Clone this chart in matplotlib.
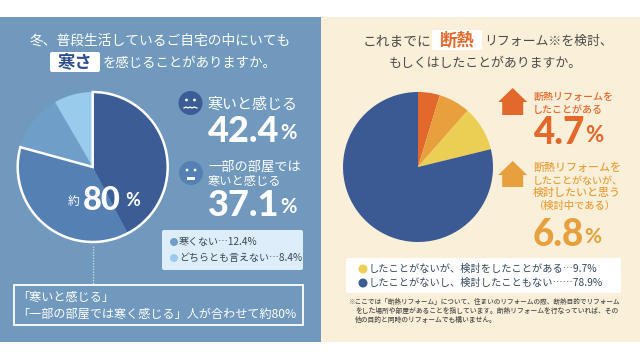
import matplotlib
matplotlib.use("Agg")
import matplotlib.pyplot as plt
from matplotlib.patches import Rectangle, Circle, FancyBboxPatch, Polygon

plt.rcParams['font.family'] = ['Noto Sans CJK JP', 'DejaVu Sans']

# 左のグラフ
cold_labels = ["寒いと感じる", "一部の部屋では寒いと感じる", "寒くない", "どちらとも言えない"]
cold_values = [42.4, 37.1, 12.4, 8.4]
# 右のグラフ
reform_labels = ["したことがある", "検討したいと思う", "検討をしたことがある", "検討したこともない"]
reform_values = [4.7, 6.8, 9.7, 78.9]

COLD_COLORS = ["#3C5C95", "#5480B4", "#6F9EC9", "#99CBEC"]
REFORM_COLORS = ["#E2682B", "#E8A03E", "#EBCF55", "#3B5A94"]
BLUE_BG = "#7099BD"
CREAM_BG = "#FAEFD8"
DARK_TEXT = "#4A4A48"
LEGEND_TEXT = "#34465A"
NUM_FONT = ['Lato', 'Noto Sans CJK JP']

W, H = 640, 360

fig = plt.figure(figsize=(6.4, 3.6), dpi=100, facecolor="white")

# 背景の軸
under = fig.add_axes([0, 0, 1, 1])
under.set_xlim(0, W)
under.set_ylim(H, 0)
under.axis("off")
under.set_zorder(0)
under.add_patch(Rectangle((0, 17), 321, 325, fc=BLUE_BG, ec="none"))
under.add_patch(Rectangle((321, 17), 319, 325, fc=CREAM_BG, ec="none"))

# 文字や図形用の軸 (ピクセル座標)
bg = fig.add_axes([0, 0, 1, 1])
bg.set_xlim(0, W)
bg.set_ylim(H, 0)
bg.axis("off")
bg.set_zorder(2)


def label(x, y, s, size, color="white", ha="left", weight="normal", family=None):
    kw = {}
    if family:
        kw["family"] = family
    bg.text(x, y, s, fontsize=size, color=color, ha=ha, va="center",
            fontweight=weight, zorder=5, **kw)


def big_number(x, xpct, y, value, size, pct_size, color):
    label(x, y, f"{value}", size, color, weight="black", family=NUM_FONT)
    label(xpct, y + 2, "%", pct_size, color, weight="bold", family=NUM_FONT)


def badge(x0, y0, x1, y1, color="white"):
    bg.add_patch(FancyBboxPatch((x0 + 2, y0 + 2), x1 - x0 - 4, y1 - y0 - 4,
                                boxstyle="round,pad=2", fc=color, ec="none", zorder=2))


def house(cx, top, eave, bottom, color):
    bg.add_patch(Polygon([(cx, top), (cx + 14.5, eave), (cx + 10.5, eave), (cx + 10.5, bottom),
                          (cx - 10.5, bottom), (cx - 10.5, eave), (cx - 14.5, eave)],
                         closed=True, fc=color, ec="none", zorder=3))


def pie_axes(cx, cy, r):
    m = r * 1.1
    ax = fig.add_axes([(cx - m) / W, 1 - (cy + m) / H, 2 * m / W, 2 * m / H])
    ax.set_zorder(1)
    return ax


# 左パネル タイトル
label(160, 41, "冬、普段生活しているご自宅の中にいても", 9.9, ha="center")
badge(50, 52, 100, 72)
label(75, 62, "寒さ", 12.5, "#2F4F8C", ha="center", weight="bold")
label(190, 63, "を感じることがありますか。", 9.6, ha="center")

# 左パネル 円グラフ
ax = pie_axes(92.7, 167, 75)
ax.pie(cold_values, colors=COLD_COLORS, startangle=90, counterclock=False, radius=1,
       wedgeprops={"linewidth": 0})
outline, _ = ax.pie([cold_values[0] + cold_values[1], cold_values[2] + cold_values[3]],
                    startangle=90, counterclock=False, radius=1,
                    wedgeprops={"facecolor": "none", "edgecolor": "none"})
outline[0].set_edgecolor("white")
outline[0].set_linewidth(1.8)
outline[0].set_zorder(4)
ax.set_xlim(-1.1, 1.1)
ax.set_ylim(-1.1, 1.1)

label(74, 202, "約", 8.5, ha="center")
label(83, 200, "80", 23.5, weight="black", family=NUM_FONT)
label(125, 201, "%", 13, weight="bold", family=NUM_FONT)

# 左パネル ラベル
bg.add_patch(Circle((190.5, 103), 12, fc=COLD_COLORS[0], ec="none", zorder=3))
for dx in (-4, 4):
    bg.add_patch(Circle((190.5 + dx, 100), 1.4, fc="white", ec="none", zorder=4))
bg.plot([184, 186, 188, 190, 192, 194, 197], [108, 107, 108, 107, 108, 107, 108],
        color="white", lw=0.9, zorder=4)
label(208, 104, cold_labels[0], 10.8)
big_number(208, 280, 131, cold_values[0], 26, 14.5, "white")

bg.add_patch(Circle((191, 173), 12, fc=COLD_COLORS[1], ec="none", zorder=3))
for dx in (-4, 4):
    bg.add_patch(Circle((191 + dx, 170), 1.4, fc="white", ec="none", zorder=4))
bg.add_patch(Rectangle((187, 177), 8, 3, fc="white", ec="none", zorder=4))
label(208, 167, "一部の部屋では", 9.5)
label(208, 181, "寒いと感じる", 8.8)
big_number(208, 280, 205, cold_values[1], 26, 14.5, "white")

# 左パネル 凡例
badge(162, 230, 303, 270, "#DDEEFA")
bg.add_patch(Circle((174, 242), 4, fc=COLD_COLORS[2], ec="none", zorder=4))
bg.add_patch(Circle((174, 258), 4, fc=COLD_COLORS[3], ec="none", zorder=4))
label(179, 242, f"{cold_labels[2]}…{cold_values[2]}%", 7.2, LEGEND_TEXT)
label(179, 258, f"{cold_labels[3]}…{cold_values[3]}%", 7.2, LEGEND_TEXT)

# 左パネル 下の枠
bg.plot([93, 93], [246, 284], color="#C5D6E6", lw=1, ls=(0, (1, 1)), zorder=3)
bg.add_patch(Rectangle((14, 285), 289, 40, fc="none", ec="white", lw=1.3, zorder=3))
label(17, 297, "「寒いと感じる」", 8.7)
label(17, 314, "「一部の部屋では寒く感じる」人が合わせて約80%", 8.7)

# 右パネル タイトル
label(363, 41, "これまでに", 9.9, DARK_TEXT)
badge(432, 30, 482, 50)
label(457, 41, "断熱", 12.5, REFORM_COLORS[0], ha="center", weight="bold")
label(484, 41, "リフォーム※を検討、", 9.3, DARK_TEXT)
label(485, 64, "もしくはしたことがありますか。", 9.3, DARK_TEXT, ha="center")

# 右パネル 円グラフ
ax2 = pie_axes(418, 167, 75)
ax2.pie(reform_values, colors=REFORM_COLORS, startangle=90, counterclock=False, radius=1,
        wedgeprops={"linewidth": 0})
ax2.set_xlim(-1.1, 1.1)
ax2.set_ylim(-1.1, 1.1)

# 右パネル ラベル
house(512.7, 88, 102, 115, REFORM_COLORS[0])
label(533, 97, "断熱リフォームを", 7.2, REFORM_COLORS[0], weight="medium")
label(533, 110, reform_labels[0], 7.2, REFORM_COLORS[0], weight="medium")
big_number(533, 585, 133, reform_values[0], 26.5, 16, REFORM_COLORS[0])

house(512.7, 161, 175, 187, REFORM_COLORS[1])
label(533, 168, "断熱リフォームを", 7.9, REFORM_COLORS[1], weight="medium")
label(533, 181, "したことがないが、", 7.2, REFORM_COLORS[1], weight="medium")
label(533, 193, reform_labels[1], 7.9, REFORM_COLORS[1], weight="medium")
label(533, 206, "（検討中である）", 7.4, REFORM_COLORS[1], weight="medium")
big_number(533, 584, 235, reform_values[1], 26.5, 15, REFORM_COLORS[1])

# 右パネル 凡例
badge(346, 258, 621, 293)
bg.add_patch(Circle((363, 269), 4.5, fc=REFORM_COLORS[2], ec="none", zorder=4))
bg.add_patch(Circle((363, 283), 4.5, fc=REFORM_COLORS[3], ec="none", zorder=4))
label(369, 269, f"したことがないが、{reform_labels[2]}…{reform_values[2]}%", 7.35, LEGEND_TEXT)
label(369, 283, f"したことがないし、{reform_labels[3]}……{reform_values[3]}%", 7.35, LEGEND_TEXT)

# 注釈
label(348, 302, "※ここでは「断熱リフォーム」について、住まいのリフォームの際、断熱目的でリフォーム", 4.75, DARK_TEXT, weight="medium")
label(355, 311, "をした場所や部屋があることを指しています。断熱リフォームを行なっていれば、その", 4.9, DARK_TEXT, weight="medium")
label(355, 320, "他の目的と同時のリフォームでも構いません。", 4.9, DARK_TEXT, weight="medium")

fig.savefig("out.png", dpi=100)
